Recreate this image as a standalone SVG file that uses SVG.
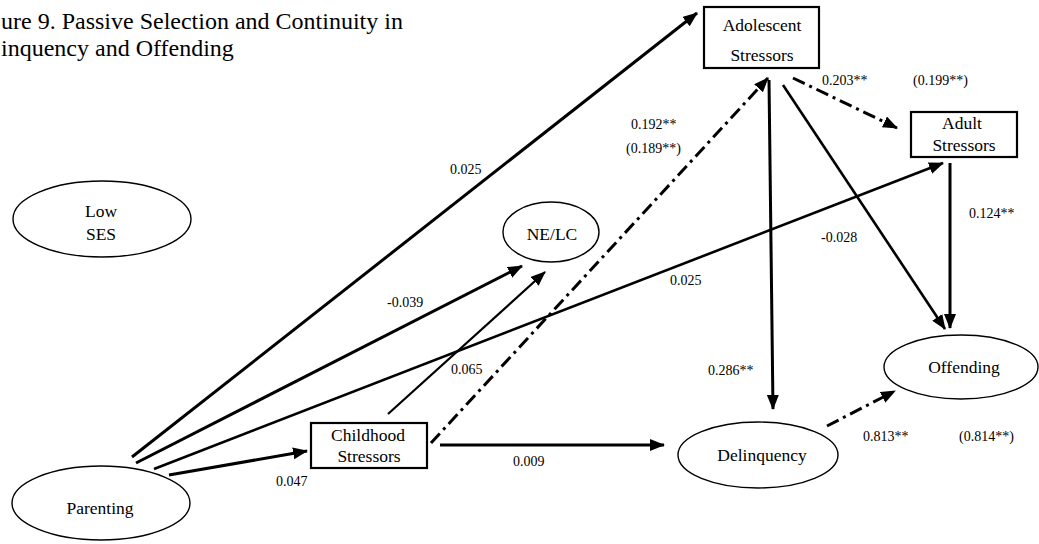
<svg xmlns="http://www.w3.org/2000/svg" width="1039" height="544" viewBox="0 0 1039 544">
  <style>
    text { font-family: "Liberation Serif", "Times New Roman", serif; fill: #000; }
    .title { font-size: 24px; }
    .node { font-size: 17.5px; text-anchor: middle; }
    .lbl { font-size: 14px; }
    .oval { fill: #fff; stroke: #000; stroke-width: 1.4; }
    .box { fill: #fff; stroke: #000; stroke-width: 2.2; }
    .edge { fill: none; stroke: #000; stroke-width: 3; marker-end: url(#head); }
    .thin { stroke-width: 2.2; }
    .mid { stroke-width: 2.6; }
    .dashdot { stroke-dasharray: 13 5 3 5; }
  </style>
  <defs>
    <marker id="head" markerUnits="userSpaceOnUse" markerWidth="16" markerHeight="13" refX="14" refY="6" orient="auto">
      <path d="M0,0 L15,6 L0,12 z" fill="#000"/>
    </marker>
  </defs>

  <rect width="1039" height="544" fill="#fff"/>

  <!-- heading -->
  <text class="title" x="1" y="29">ure 9. Passive Selection and Continuity in</text>
  <text class="title" x="1" y="56">inquency and Offending</text>

  <!-- connectors -->
  <g id="connectors">
    <line class="edge" x1="132" y1="457" x2="697" y2="13"/>
    <line class="edge" x1="136" y1="463" x2="522" y2="266"/>
    <line class="edge mid" x1="154" y1="469" x2="943" y2="163"/>
    <line class="edge" x1="169" y1="475" x2="307" y2="451"/>
    <line class="edge thin" x1="388" y1="414" x2="545" y2="272"/>
    <line class="edge dashdot" x1="431" y1="443" x2="768" y2="78"/>
    <line class="edge" x1="440" y1="445" x2="664" y2="445"/>
    <line class="edge" x1="769" y1="80" x2="773" y2="409"/>
    <line class="edge mid" x1="783" y1="85" x2="945" y2="329"/>
    <line class="edge dashdot" x1="793" y1="78" x2="897" y2="128"/>
    <line class="edge" x1="950" y1="163" x2="950" y2="328"/>
    <line class="edge dashdot" x1="827" y1="426" x2="895" y2="391"/>

    <text class="lbl" x="450" y="174">0.025</text>
    <text class="lbl" x="631" y="129">0.192**</text>
    <text class="lbl" x="626" y="153">(0.189**)</text>
    <text class="lbl" x="822" y="85">0.203**</text>
    <text class="lbl" x="913" y="85">(0.199**)</text>
    <text class="lbl" x="969" y="218">0.124**</text>
    <text class="lbl" x="821" y="242">-0.028</text>
    <text class="lbl" x="670" y="285">0.025</text>
    <text class="lbl" x="387" y="307">-0.039</text>
    <text class="lbl" x="451" y="374">0.065</text>
    <text class="lbl" x="708" y="375">0.286**</text>
    <text class="lbl" x="863" y="441">0.813**</text>
    <text class="lbl" x="959" y="441">(0.814**)</text>
    <text class="lbl" x="513" y="466">0.009</text>
    <text class="lbl" x="276" y="486">0.047</text>
  </g>

  <g id="low-ses">
    <ellipse class="oval" cx="102" cy="219" rx="89" ry="38"/>
    <text class="node" x="101" y="217">Low</text>
    <text class="node" x="101" y="240">SES</text>
  </g>

  <g id="parenting">
    <ellipse class="oval" cx="101" cy="503" rx="89" ry="37"/>
    <text class="node" x="100" y="514">Parenting</text>
  </g>

  <g id="ne-lc">
    <ellipse class="oval" cx="551" cy="232" rx="48" ry="30"/>
    <text class="node" x="552" y="240">NE/LC</text>
  </g>

  <g id="childhood-stressors">
    <rect class="box" x="311" y="423" width="116" height="45"/>
    <text class="node" x="368" y="441">Childhood</text>
    <text class="node" x="369" y="462">Stressors</text>
  </g>

  <g id="adolescent-stressors">
    <rect class="box" x="704" y="7" width="115" height="61"/>
    <text class="node" x="762" y="31">Adolescent</text>
    <text class="node" x="762" y="61">Stressors</text>
  </g>

  <g id="adult-stressors">
    <rect class="box" x="911" y="112" width="106" height="45"/>
    <text class="node" x="962" y="129">Adult</text>
    <text class="node" x="964" y="151">Stressors</text>
  </g>

  <g id="delinquency">
    <ellipse class="oval" cx="758" cy="455" rx="80" ry="33"/>
    <text class="node" x="762" y="461">Delinquency</text>
  </g>

  <g id="offending">
    <ellipse class="oval" cx="961" cy="367" rx="77" ry="32"/>
    <text class="node" x="964" y="373">Offending</text>
  </g>
</svg>
